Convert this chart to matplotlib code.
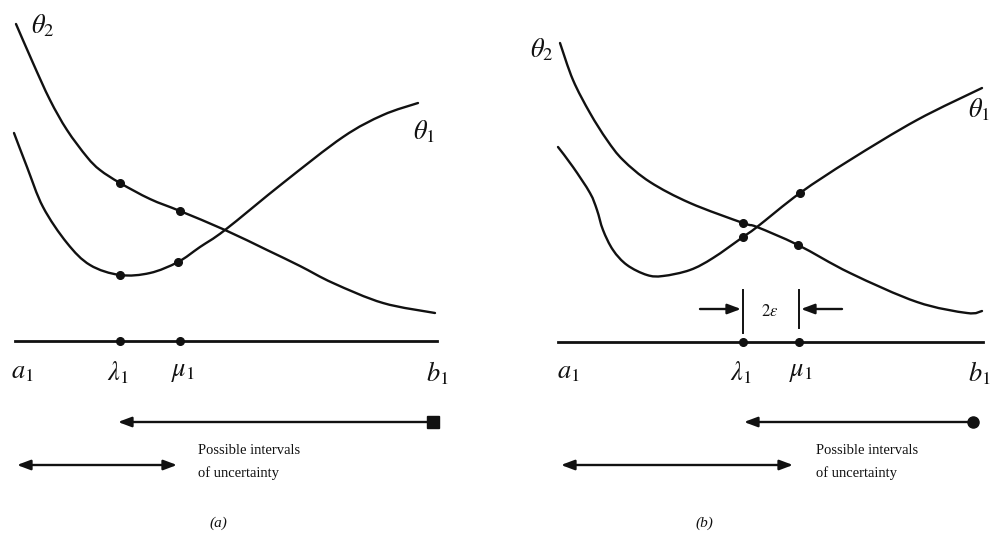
import matplotlib.pyplot as plt
from matplotlib.path import Path
from matplotlib.patches import PathPatch

plt.rcParams["mathtext.fontset"] = "stix"
plt.rcParams["font.family"] = ["Liberation Serif", "DejaVu Serif"]

INK = "#111111"

# curve samples, figure-pixel coordinates (y grows downward)
theta2_a_x = [16, 33, 50, 67, 87, 100, 120, 150, 180, 225, 267, 300, 333, 383, 435]
theta2_a_y = [24, 63, 100, 130, 157, 170, 183, 199, 211, 230, 250, 266, 283, 303, 313]
theta1_a_x = [14, 27, 43, 67, 90, 120, 150, 178, 200, 225, 283, 343, 383, 418]
theta1_a_y = [133, 167, 207, 243, 265, 275, 273, 262, 247, 230, 183, 137, 115, 103]

theta2_b_x = [560, 573, 590, 607, 623, 650, 690, 743, 757, 798, 850, 917, 967, 982]
theta2_b_y = [43, 80, 113, 140, 160, 182, 203, 223, 227, 245, 273, 302, 313, 311]
theta1_b_x = [558, 573, 590, 597, 603, 613, 627, 647, 663, 690, 713, 743, 757, 800, 850, 917, 982]
theta1_b_y = [147, 167, 193, 210, 230, 250, 265, 275, 276, 270, 258, 237, 227, 193, 160, 120, 88]

# search points on each panel
axis_a = (15, 437, 341)
axis_b = (558, 983, 342)
lam_a, mu_a = 120, 180
lam_b, mu_b = 743, 799
dots_a = [(120, 183), (180, 211), (120, 275), (178, 262)]
dots_b = [(743, 223), (798, 245), (743, 237), (800, 193)]

axis_labels_a = [("$a_1$", 22), ("$\\lambda_1$", 118), ("$\\mu_1$", 183), ("$b_1$", 437)]
axis_labels_b = [("$a_1$", 568), ("$\\lambda_1$", 741), ("$\\mu_1$", 801), ("$b_1$", 979)]

# intervals of uncertainty: (x_start, x_end, y)
upper_a = (118, 433, 422)
lower_a = (17, 177, 465)
upper_b = (744, 973, 422)
lower_b = (561, 793, 465)


def smooth_path(xs, ys):
    # Catmull-Rom through the samples, emitted as cubic Bezier segments
    pts = list(zip(xs, ys))
    verts = [pts[0]]
    codes = [Path.MOVETO]
    n = len(pts)
    for i in range(n - 1):
        p0 = pts[max(i - 1, 0)]
        p1 = pts[i]
        p2 = pts[i + 1]
        p3 = pts[min(i + 2, n - 1)]
        c1 = (p1[0] + (p2[0] - p0[0]) / 6, p1[1] + (p2[1] - p0[1]) / 6)
        c2 = (p2[0] - (p3[0] - p1[0]) / 6, p2[1] - (p3[1] - p1[1]) / 6)
        verts += [c1, c2, p2]
        codes += [Path.CURVE4] * 3
    return Path(verts, codes)


fig = plt.figure(figsize=(9.92, 5.4), dpi=100)
ax = fig.add_axes([0, 0, 1, 1])
ax.set_xlim(0, 992)
ax.set_ylim(540, 0)
ax.axis("off")

for xs, ys in [(theta2_a_x, theta2_a_y), (theta1_a_x, theta1_a_y),
               (theta2_b_x, theta2_b_y), (theta1_b_x, theta1_b_y)]:
    ax.add_patch(PathPatch(smooth_path(xs, ys), facecolor="none", edgecolor=INK,
                           lw=1.7, capstyle="round", joinstyle="round"))

for (x0, x1, y), (lam, mu) in [(axis_a, (lam_a, mu_a)), (axis_b, (lam_b, mu_b))]:
    ax.plot([x0, x1], [y, y], color=INK, lw=2.0)
    ax.plot([lam, mu], [y, y], "o", color=INK, ms=5.5)

for pts in (dots_a, dots_b):
    ax.plot([p[0] for p in pts], [p[1] for p in pts], "o", color=INK, ms=5.5)

for labels in (axis_labels_a, axis_labels_b):
    for txt, x in labels:
        ax.text(x, 373, txt, fontsize=19, ha="center", va="center", color=INK)

ax.text(43, 26, "$\\theta_2$", fontsize=19, ha="center", va="center", color=INK)
ax.text(424, 132, "$\\theta_1$", fontsize=19, ha="center", va="center", color=INK)
ax.text(542, 50, "$\\theta_2$", fontsize=19, ha="center", va="center", color=INK)
ax.text(968, 110, "$\\theta_1$", fontsize=19, ha="left", va="center", color=INK)

head = dict(arrowstyle="-|>,head_length=0.8,head_width=0.3", color=INK, lw=1.7,
            shrinkA=0, shrinkB=0)
both = dict(arrowstyle="<|-|>,head_length=0.8,head_width=0.3", color=INK, lw=1.7,
            shrinkA=0, shrinkB=0)

for (x0, x1, y), end in [(upper_a, "s"), (upper_b, "o")]:
    ax.annotate("", xy=(x0, y), xytext=(x1, y), arrowprops=head)
    ax.plot(x1, y, end, color=INK, ms=8)
for x0, x1, y in (lower_a, lower_b):
    ax.annotate("", xy=(x0, y), xytext=(x1, y), arrowprops=both)

for x in (198, 816):
    ax.text(x, 450, "Possible intervals", fontsize=10.5, ha="left", va="center", color=INK)
    ax.text(x, 473, "of uncertainty", fontsize=10.5, ha="left", va="center", color=INK)

# 2-epsilon spacing marker between lambda and mu in panel (b)
ax.plot([lam_b, lam_b], [290, 333], color=INK, lw=1.4)
ax.plot([mu_b, mu_b], [290, 328], color=INK, lw=1.4)
ax.annotate("", xy=(lam_b - 2, 309), xytext=(700, 309), arrowprops=head)
ax.annotate("", xy=(mu_b + 2, 309), xytext=(842, 309), arrowprops=head)
ax.text(770, 312, "$2\\varepsilon$", fontsize=12, ha="center", va="center", color=INK)

ax.text(218, 523, "(a)", fontsize=11, style="italic", ha="center", va="center", color=INK)
ax.text(704, 523, "(b)", fontsize=11, style="italic", ha="center", va="center", color=INK)

fig.savefig("out.png", dpi=100, facecolor="white")
